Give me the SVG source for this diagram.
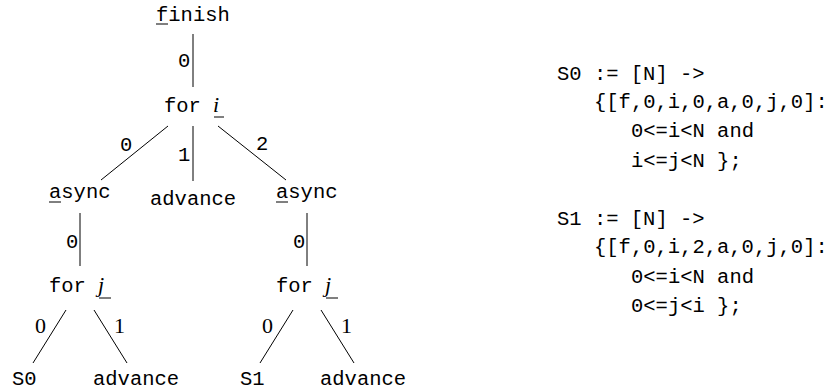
<svg xmlns="http://www.w3.org/2000/svg" width="833" height="392" viewBox="0 0 833 392">
<style>
.tt{font-family:"Liberation Mono","DejaVu Sans Mono",monospace;font-size:20.5px;fill:#000}
.it{font-family:"Liberation Serif","DejaVu Serif",serif;font-style:italic;font-size:22px;fill:#000}
.rm{font-family:"Liberation Serif","DejaVu Serif",serif;font-size:22px;fill:#000}
.e{stroke:#000;stroke-width:1;fill:none}
.u{stroke:#000;stroke-width:1}
</style>
<rect width="833" height="392" fill="#fff"/>
<g id="connectors">
<line class="e" x1="193" y1="34" x2="193" y2="87"/>
<line class="e" x1="168" y1="126" x2="101" y2="180"/>
<line class="e" x1="193" y1="126" x2="193" y2="181"/>
<line class="e" x1="218" y1="126" x2="286" y2="180"/>
<line class="e" x1="80" y1="213" x2="80" y2="266"/>
<line class="e" x1="66" y1="310" x2="33" y2="363"/>
<line class="e" x1="94" y1="310" x2="127" y2="363"/>
<line class="e" x1="307" y1="213" x2="307" y2="266"/>
<line class="e" x1="293" y1="310" x2="260" y2="363"/>
<line class="e" x1="321" y1="310" x2="354" y2="363"/>
<text class="tt" x="178" y="67">0</text>
<text class="tt" x="120" y="151">0</text>
<text class="tt" x="178" y="161">1</text>
<text class="tt" x="256" y="150">2</text>
<text class="tt" x="66" y="248">0</text>
<text class="tt" x="293" y="248">0</text>
<text class="rm" x="35" y="333">0</text>
<text class="rm" x="114" y="333">1</text>
<text class="rm" x="262" y="333">0</text>
<text class="rm" x="341" y="333">1</text>
</g>
<g id="finish">
<text class="tt" x="156" y="21">finish</text>
<line class="u" x1="156" y1="24" x2="168" y2="24"/>
</g>
<g id="for-i">
<text class="tt" x="164" y="112">for</text>
<text class="it" x="213" y="112">i</text>
<line class="u" x1="214" y1="117" x2="224" y2="117"/>
</g>
<g id="async-left">
<text class="tt" x="49" y="198">async</text>
<line class="u" x1="49" y1="202" x2="61" y2="202"/>
</g>
<g id="advance-mid">
<text class="tt" x="150" y="205">advance</text>
</g>
<g id="async-right">
<text class="tt" x="276" y="198">async</text>
<line class="u" x1="276" y1="202" x2="288" y2="202"/>
</g>
<g id="for-j-left">
<text class="tt" x="49" y="292">for</text>
<text class="it" x="98" y="292">j</text>
<line class="u" x1="99" y1="298" x2="111" y2="298"/>
</g>
<g id="for-j-right">
<text class="tt" x="276" y="292">for</text>
<text class="it" x="325" y="292">j</text>
<line class="u" x1="326" y1="298" x2="338" y2="298"/>
</g>
<g id="S0"><text class="tt" x="12" y="385">S0</text></g>
<g id="advance-left"><text class="tt" x="93" y="385">advance</text></g>
<g id="S1"><text class="tt" x="240" y="385">S1</text></g>
<g id="advance-right"><text class="tt" x="320" y="385">advance</text></g>
<g id="code" xml:space="preserve">
<text class="tt" x="557" y="80">S0 := [N] -&gt;</text>
<text class="tt" x="594" y="108">{[f,0,i,0,a,0,j,0]:</text>
<text class="tt" x="631" y="137">0&lt;=i&lt;N and</text>
<text class="tt" x="631" y="167">i&lt;=j&lt;N };</text>
<text class="tt" x="557" y="225">S1 := [N] -&gt;</text>
<text class="tt" x="594" y="253">{[f,0,i,2,a,0,j,0]:</text>
<text class="tt" x="631" y="283">0&lt;=i&lt;N and</text>
<text class="tt" x="631" y="312">0&lt;=j&lt;i };</text>
</g>
</svg>
